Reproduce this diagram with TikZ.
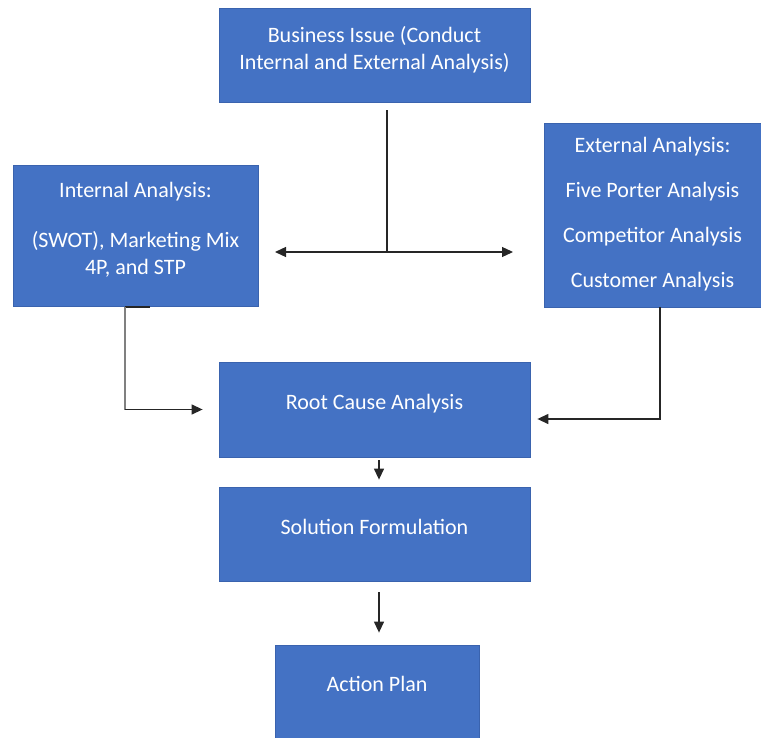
\documentclass[tikz,border=0pt]{standalone}
\usepackage{fontspec}
\setmainfont{Carlito}
\usetikzlibrary{arrows.meta}

\definecolor{boxblue}{HTML}{4472C4}
\definecolor{boxedge}{HTML}{3A63AE}

\tikzset{
  box/.style={draw=boxedge, line width=0.8pt, fill=boxblue, text=white,
    align=center, inner sep=0pt, text depth=15pt, font=\fontsize{22}{27}\selectfont},
  link/.style={line width=1.3pt, black!85},
  tip/.style={-{Triangle[length=11pt,width=10pt]}},
}

\begin{document}
\begin{tikzpicture}[x=1pt,y=-1pt]
    \useasboundingbox (0,0) rectangle (761,738);

    \node[box, minimum width=311pt, minimum height=94pt] (issue) at (374.5,55)
        {Business Issue (Conduct\\Internal and External Analysis)};
    \node[box, minimum width=245pt, minimum height=141pt] (internal) at (135.5,235.5)
        {Internal Analysis:\\[23pt](SWOT), Marketing Mix\\4P, and STP};
    \node[box, text depth=5pt, minimum width=217pt, minimum height=184pt] (external) at (652.5,215)
        {External Analysis:\\[18pt]Five Porter Analysis\\[18pt]Competitor Analysis\\[18pt]Customer Analysis};
    \node[box, minimum width=311pt, minimum height=95pt] (root) at (374.5,409.5)
        {Root Cause Analysis};
    \node[box, minimum width=311pt, minimum height=94pt] (solution) at (374.5,534)
        {Solution Formulation};
    \node[box, minimum width=204pt, minimum height=93pt] (plan) at (377,691.5)
        {Action Plan};

    % fork under the business issue
    \coordinate (fork) at (387,252);
    \coordinate (forkleft) at (275,252);
    \coordinate (forkright) at (513,252);
    \coordinate (intdown) at (125,307);
    \coordinate (inttick) at (150,307);
    \coordinate (extdown) at (660,307);
    \coordinate (chain) at (379,0);

    \draw[link] ([yshift=-8pt]issue.south -| fork) -- (fork);
    \draw[link, {Triangle[length=11pt,width=10pt]}-{Triangle[length=11pt,width=10pt]}]
        (forkleft) -- (forkright);

    % analyses into root cause
    \draw[link] (inttick) -- (intdown);
    \draw[link, black!50] (intdown) -- (intdown |- root.west);
    \draw[link, tip, shorten >=16pt] (intdown |- root.west) -- (root.west);
    \draw[link, tip, shorten >=7pt] (extdown) |- ([yshift=-9.5pt]root.east);

    % down the chain
    \draw[link, tip, shorten <=3pt, shorten >=7pt] (root.south -| chain) -- (solution.north -| chain);
    \draw[link, tip, shorten <=11pt, shorten >=12pt] (solution.south -| chain) -- (plan.north -| chain);
\end{tikzpicture}
\end{document}
